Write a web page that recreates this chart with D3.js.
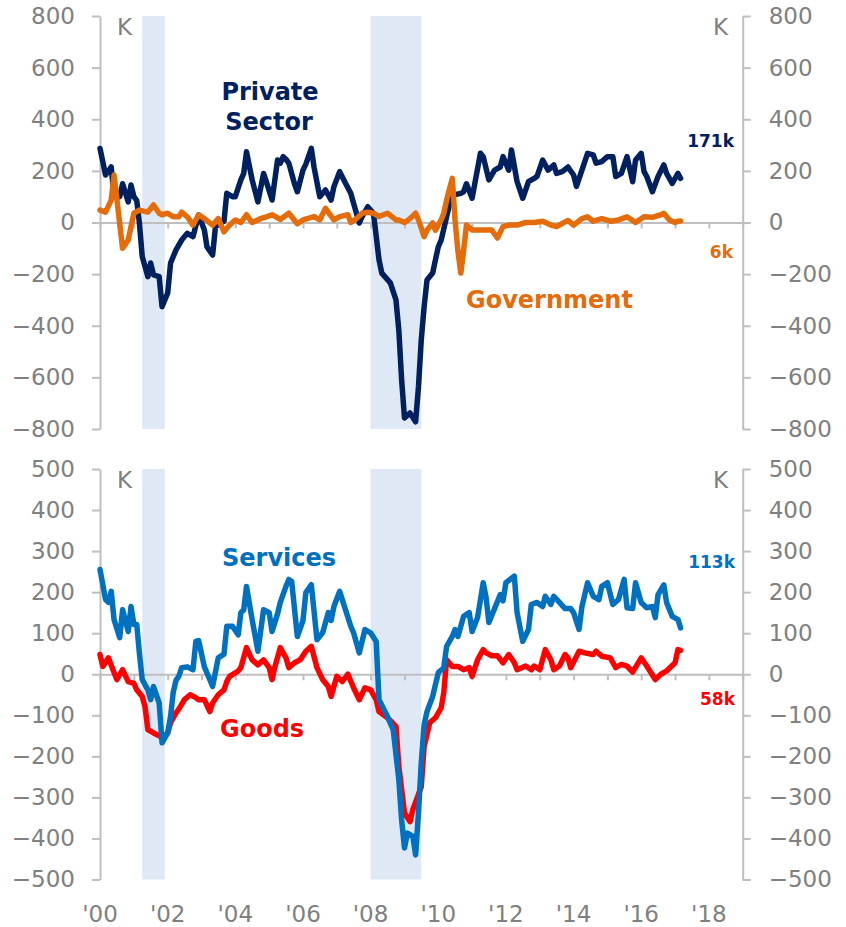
<!DOCTYPE html>
<html>
<head>
<meta charset="utf-8">
<script src="https://cdn.jsdelivr.net/npm/d3@7"></script>
<style>
  body { margin: 0; background: #fff; }
  svg { display: block; font-family: "DejaVu Sans", Verdana, sans-serif; }
</style>
</head>
<body>
<div id="chart"></div>
<script>
// monthly changes, thousands (3-month averages); [months since Jan 2000, value]
var privateSector = [[0,287],[2,184],[4,215],[5,100],[7,100],[8,150],[10,80],[11,145],[12,100],[13,85],[14,0],[15,-132],[17,-210],[18,-157],[19,-203],[21,-210],[22,-326],[24,-273],[25,-157],[27,-106],[29,-68],[31,-42],[33,-55],[35,29],[37,-29],[38,-94],[40,-126],[41,-16],[43,-2],[44,5],[45,113],[47,100],[48,100],[50,165],[51,190],[52,274],[54,165],[56,80],[58,190],[59,158],[61,87],[63,242],[64,230],[65,255],[66,245],[67,230],[69,150],[70,119],[72,203],[73,226],[75,287],[76,213],[78,100],[80,126],[82,87],[83,139],[85,197],[87,155],[89,113],[90,75],[92,-2],[93,23],[95,61],[97,36],[99,-145],[100,-196],[103,-234],[105,-300],[106,-417],[107,-610],[108,-757],[110,-738],[112,-772],[113,-636],[114,-455],[115,-326],[116,-223],[118,-196],[119,-145],[120,-94],[121,-68],[123,23],[125,113],[126,108],[128,113],[129,119],[130,150],[132,94],[135,268],[136,255],[138,165],[140,203],[142,215],[143,255],[145,203],[146,281],[148,158],[150,94],[152,158],[154,171],[155,178],[157,242],[159,203],[161,223],[162,190],[164,197],[166,215],[168,184],[169,140],[171,203],[173,268],[175,262],[176,230],[178,236],[180,255],[182,255],[183,178],[185,190],[187,255],[189,158],[190,242],[192,268],[193,197],[194,178],[196,119],[198,178],[200,223],[201,190],[203,152],[205,190],[206,171]];

var government = [[0,48],[2,40],[4,87],[5,184],[6,90],[8,-100],[10,-68],[11,-16],[12,36],[14,48],[17,40],[19,68],[21,36],[22,30],[24,36],[26,22],[28,22],[29,40],[31,22],[33,-10],[35,30],[37,15],[40,-10],[42,15],[44,-36],[46,-10],[48,10],[50,0],[52,30],[54,0],[57,15],[59,22],[61,30],[64,12],[67,36],[70,-5],[72,10],[76,23],[78,10],[80,55],[83,10],[85,23],[88,30],[89,0],[91,15],[93,36],[95,40],[97,36],[99,23],[102,36],[105,10],[106,10],[108,0],[110,15],[112,36],[113,10],[115,-55],[116,-30],[118,-2],[119,-30],[121,10],[122,36],[123,87],[125,171],[126,10],[127,-110],[128,-196],[129,-110],[130,-10],[132,-29],[135,-29],[137,-29],[139,-29],[141,-60],[143,-16],[145,-10],[148,-10],[151,0],[154,0],[157,5],[160,-10],[162,-16],[166,8],[168,-10],[171,15],[173,22],[175,5],[178,15],[181,5],[184,10],[187,22],[190,0],[193,22],[196,20],[199,30],[200,36],[202,10],[204,0],[205,5],[206,6]];

var services = [[0,255],[2,182],[3,175],[4,202],[5,133],[7,89],[8,157],[10,104],[11,165],[12,121],[13,121],[14,52],[15,-13],[17,-38],[18,-62],[19,-30],[21,-70],[22,-167],[24,-143],[25,-103],[26,-45],[27,-15],[28,-5],[29,16],[31,18],[33,11],[34,80],[35,82],[37,18],[39,-13],[40,-30],[42,40],[44,49],[45,117],[47,117],[49,96],[50,150],[51,157],[52,214],[54,133],[56,56],[58,157],[60,150],[61,104],[63,147],[64,175],[66,214],[67,231],[68,226],[70,92],[72,131],[73,199],[75,218],[77,84],[79,101],[81,150],[82,131],[83,165],[85,202],[87,160],[89,117],[90,101],[92,52],[94,109],[96,101],[98,80],[99,-62],[102,-103],[104,-135],[106,-257],[107,-355],[108,-423],[109,-387],[111,-395],[112,-440],[113,-338],[114,-216],[115,-123],[116,-91],[118,-54],[120,4],[122,16],[123,68],[125,92],[126,109],[127,92],[129,141],[131,150],[132,104],[134,138],[136,223],[137,187],[138,126],[140,160],[142,194],[143,179],[144,223],[147,239],[148,150],[150,80],[152,109],[153,170],[155,175],[157,165],[158,190],[160,170],[161,190],[163,175],[165,160],[167,160],[168,150],[170,109],[171,165],[173,223],[175,190],[177,182],[178,214],[180,223],[182,170],[184,182],[186,231],[187,162],[189,160],[190,223],[192,175],[194,162],[196,165],[197,138],[198,194],[200,218],[201,175],[203,141],[205,133],[206,113]];

var goods = [[0,48],[1,19],[3,40],[5,4],[6,-13],[8,11],[10,-18],[12,-22],[13,-38],[15,-54],[16,-79],[17,-135],[19,-143],[21,-150],[22,-155],[24,-143],[25,-118],[27,-94],[28,-85],[30,-62],[32,-50],[34,-57],[35,-62],[37,-62],[39,-91],[40,-70],[42,-50],[44,-38],[45,-18],[46,-5],[49,8],[50,16],[52,65],[54,35],[56,23],[58,35],[60,16],[61,-13],[62,16],[64,65],[66,40],[67,16],[69,28],[71,35],[73,56],[75,68],[77,16],[79,-13],[81,-30],[82,-54],[84,-5],[86,-18],[88,0],[90,-33],[92,-62],[94,-33],[96,-38],[98,-62],[99,-91],[102,-106],[105,-127],[106,-225],[108,-338],[110,-359],[111,-330],[114,-274],[115,-176],[117,-118],[119,-106],[121,-82],[122,-45],[123,35],[125,19],[127,19],[129,11],[131,16],[132,-5],[134,35],[136,60],[137,52],[139,45],[141,45],[143,28],[145,48],[147,28],[148,11],[151,20],[153,11],[154,20],[156,11],[158,60],[160,35],[161,11],[163,20],[165,48],[166,40],[167,16],[170,56],[172,52],[175,48],[176,56],[178,44],[181,40],[183,16],[185,24],[187,20],[189,5],[192,40],[194,20],[197,-13],[199,0],[201,8],[204,28],[205,60],[206,58]];

// recessions as [start month, end month]
var recessions = [[15, 23], [96, 114]];

var topTicks = [-800, -600, -400, -200, 0, 200, 400, 600, 800];
var bottomTicks = [-500, -400, -300, -200, -100, 0, 100, 200, 300, 400, 500];
var yearLabels = [2000, 2002, 2004, 2006, 2008, 2010, 2012, 2014, 2016, 2018];

var width = 846, height = 927;
var left = 100, right = 742.7;
var grey = "#808080", axisGrey = "#bfbfbf";

function month(m) { return new Date(2000, m, 1); }

var svg = d3.select("#chart").append("svg")
    .attr("width", width)
    .attr("height", height);

var xScale = d3.scaleTime()
    .domain([new Date(2000, 0, 1), new Date(2019, 0, 1)])
    .range([left, right]);

function panel(opts) {
    var yScale = d3.scaleLinear()
        .domain(opts.domain)
        .range([opts.bottom, opts.top]);

    var g = svg.append("g");

    g.selectAll("rect.rec")
        .data(recessions)
        .enter()
        .append("rect")
        .attr("class", "rec")
        .attr("x", function(d){ return xScale(month(d[0])); })
        .attr("width", function(d){ return xScale(month(d[1])) - xScale(month(d[0])); })
        .attr("y", opts.top)
        .attr("height", opts.bottom - opts.top)
        .style("fill", "#dfe8f5");

    var yl = g.append("g")
        .attr("transform", "translate(" + left + ",0)")
        .call(d3.axisLeft(yScale).tickValues(opts.ticks).tickSize(8).tickSizeOuter(0).tickPadding(17));
    var yr = g.append("g")
        .attr("transform", "translate(" + right + ",0)")
        .call(d3.axisRight(yScale).tickValues(opts.ticks).tickSize(8).tickSizeOuter(0).tickPadding(18));

    var zero = g.append("g")
        .attr("transform", "translate(0," + yScale(0) + ")")
        .call(d3.axisBottom(xScale).ticks(d3.timeYear.every(1)).tickSize(6).tickSizeOuter(0).tickFormat(""));

    [yl, yr, zero].forEach(function(a){
        a.selectAll("path, line").style("stroke", axisGrey).style("stroke-width", 2);
        a.selectAll("text")
            .style("fill", grey)
            .style("font-size", "23px")
            .style("font-family", "'DejaVu Sans', Verdana, sans-serif");
    });

    g.append("text").attr("x", 117).attr("y", opts.top + 19)
        .text("K").style("fill", grey).style("font-size", "23px");
    g.append("text").attr("x", 728).attr("y", opts.top + 19)
        .attr("text-anchor", "end")
        .text("K").style("fill", grey).style("font-size", "23px");

    var line = d3.line()
        .x(function(d){ return xScale(month(d[0])); })
        .y(function(d){ return yScale(d[1]); });

    opts.series.forEach(function(s){
        g.append("path")
            .datum(s.data)
            .attr("d", line)
            .style("fill", "none")
            .style("stroke", s.color)
            .style("stroke-width", 5.5)
            .style("stroke-linejoin", "round")
            .style("stroke-linecap", "round");
    });

    opts.labels.forEach(function(l){
        g.append("text")
            .attr("x", l.x).attr("y", l.y)
            .attr("text-anchor", l.anchor || "start")
            .style("fill", l.color)
            .style("font-weight", "bold")
            .style("font-size", l.size + "px")
            .text(l.text);
    });
}

var navy = "#002060", orange = "#e46c0a", blue = "#0070c0", red = "#ff0000";

panel({
    domain: [-800, 800], top: 16, bottom: 429, ticks: topTicks,
    series: [{data: privateSector, color: navy}, {data: government, color: orange}],
    labels: [
        {text: "Private", x: 270, y: 100, color: navy, size: 24, anchor: "middle"},
        {text: "Sector", x: 269, y: 130, color: navy, size: 24, anchor: "middle"},
        {text: "Government", x: 466, y: 308, color: orange, size: 24},
        {text: "171k", x: 734, y: 147, color: navy, size: 17, anchor: "end"},
        {text: "6k", x: 733, y: 258, color: orange, size: 17, anchor: "end"}
    ]
});

panel({
    domain: [-500, 500], top: 469, bottom: 879.5, ticks: bottomTicks,
    series: [{data: goods, color: red}, {data: services, color: blue}],
    labels: [
        {text: "Services", x: 222, y: 566, color: blue, size: 24},
        {text: "Goods", x: 220, y: 737, color: red, size: 24},
        {text: "113k", x: 735, y: 568, color: blue, size: 17, anchor: "end"},
        {text: "58k", x: 735, y: 705, color: red, size: 17, anchor: "end"}
    ]
});

svg.selectAll("text.year")
    .data(yearLabels)
    .enter()
    .append("text")
    .attr("class", "year")
    .attr("x", function(d){ return xScale(new Date(d, 0, 1)); })
    .attr("y", 922)
    .attr("text-anchor", "middle")
    .style("fill", grey)
    .style("font-size", "23px")
    .text(function(d){ return "'" + String(d).slice(2); });
</script>
</body>
</html>
